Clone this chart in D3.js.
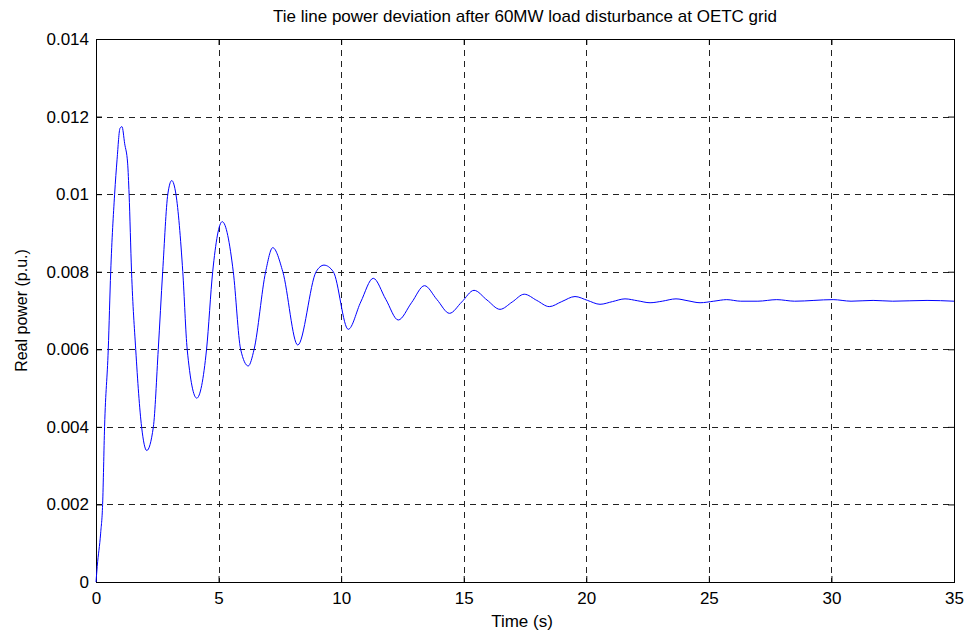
<!DOCTYPE html>
<html>
<head>
<meta charset="utf-8">
<script src="https://cdn.jsdelivr.net/npm/d3@7"></script>
<style>
  html, body { margin: 0; padding: 0; background: #fff; }
  svg { display: block; font-family: "Liberation Sans", Arial, Helvetica, sans-serif; }
</style>
</head>
<body>
<svg id="chart" width="971" height="636"></svg>
<script>
// ---- Data ----
const timeS = [0, 0.05, 0.19, 0.27, 0.35, 0.50, 0.60, 0.76, 0.86, 0.98, 1.06, 1.17, 1.29, 1.35, 1.45, 1.62, 1.86, 2.07,
  2.34, 2.54, 2.72, 2.93, 3.09, 3.26, 3.54, 3.72, 4.11, 4.51, 4.76, 5.15, 5.60, 5.90, 6.21, 6.45, 6.92, 7.21, 7.62,
  8.23, 8.98, 9.30, 9.68, 10.29, 10.80, 11.31, 11.82, 12.33, 12.87, 13.40, 13.91, 14.42, 14.92, 15.42, 15.95, 16.48,
  16.98, 17.47, 17.98, 18.49, 19.00, 19.54, 20.05, 20.56, 21.07, 21.58, 22.10, 22.60, 23.10, 23.66, 24.15, 24.64,
  25.20, 25.73, 26.30, 27.00, 27.77, 28.50, 30.07, 30.80, 31.70, 32.50, 33.90, 35.00];
const powerPU = [0, 0.0004, 0.00126, 0.002, 0.004, 0.006, 0.008, 0.010, 0.0109, 0.0117, 0.01174, 0.0113, 0.0108, 0.010,
  0.008, 0.006, 0.004, 0.00339, 0.004, 0.006, 0.008, 0.010, 0.01035, 0.010, 0.008, 0.006, 0.00474, 0.006, 0.008,
  0.00929, 0.008, 0.006, 0.00557, 0.006, 0.008, 0.00862, 0.008, 0.00611, 0.008, 0.00817, 0.008, 0.006515, 0.00722,
  0.00783, 0.00729, 0.006755, 0.0072, 0.00764, 0.00728, 0.006927, 0.00722, 0.00752, 0.00727, 0.00703, 0.00722,
  0.00742, 0.00726, 0.00710, 0.00723, 0.00736, 0.00726, 0.00716, 0.00723, 0.00730, 0.00725, 0.00720, 0.00724,
  0.00730, 0.00725, 0.00720, 0.00724, 0.00728, 0.00724, 0.00724, 0.00728, 0.00724, 0.00728, 0.00724, 0.00726,
  0.00724, 0.00726, 0.00724];
const xTicks = [0, 5, 10, 15, 20, 25, 30, 35];
const yTicks = [0, 0.002, 0.004, 0.006, 0.008, 0.010, 0.012, 0.014];
const yTickLabels = ["0", "0.002", "0.004", "0.006", "0.008", "0.01", "0.012", "0.014"];
const titleText = "Tie line power deviation after 60MW load disturbance at OETC grid";
const xLabel = "Time (s)";
const yLabel = "Real power (p.u.)";

// ---- Layout ----
const W = 971, H = 636;
const m = { left: 96, top: 39, right: 17, bottom: 54 };
const iw = W - m.left - m.right, ih = H - m.top - m.bottom;

const svg = d3.select("#chart");
const g = svg.append("g").attr("transform", `translate(${m.left},${m.top})`);

const x = d3.scaleLinear().domain([0, 35]).range([0, iw]);
const y = d3.scaleLinear().domain([0, 0.014]).range([ih, 0]);

// grid
const dash = "6,5";
const gridColor = "#222";
g.append("g").selectAll("line").data(xTicks.slice(1, -1)).join("line")
  .attr("x1", d => Math.round(x(d)) + 0.5).attr("x2", d => Math.round(x(d)) + 0.5)
  .attr("y1", 0).attr("y2", ih)
  .attr("stroke", gridColor).attr("stroke-width", 1).attr("stroke-dasharray", dash);
g.append("g").selectAll("line").data(yTicks.slice(1)).join("line")
  .attr("y1", d => Math.round(y(d)) + 0.5).attr("y2", d => Math.round(y(d)) + 0.5)
  .attr("x1", 0).attr("x2", iw)
  .attr("stroke", gridColor).attr("stroke-width", 1).attr("stroke-dasharray", dash);

// axes (ticks inside)
const fs = 17;
const xAxis = d3.axisBottom(x).tickValues(xTicks).tickSize(-6).tickPadding(10).tickFormat(d3.format("d"));
const yAxis = d3.axisLeft(y).tickValues(yTicks).tickSize(-6).tickPadding(7).tickFormat((d, i) => yTickLabels[i]);
const xa = g.append("g").attr("transform", `translate(0,${ih})`).call(xAxis);
const ya = g.append("g").call(yAxis);
[xa, ya].forEach(a => {
  a.select(".domain").remove();
  a.selectAll("line").attr("stroke", "#000");
  a.selectAll("text").attr("font-size", fs).attr("fill", "#000")
    .attr("font-family", '"Liberation Sans", Arial, Helvetica, sans-serif');
});
// top and right ticks
const xTop = d3.axisTop(x).tickValues(xTicks).tickSize(-6).tickFormat("");
const yRight = d3.axisRight(y).tickValues(yTicks).tickSize(-6).tickFormat("");
const xt = g.append("g").call(xTop);
const yr = g.append("g").attr("transform", `translate(${iw},0)`).call(yRight);
[xt, yr].forEach(a => { a.select(".domain").remove(); a.selectAll("line").attr("stroke", "#000"); });

// box
g.append("rect").attr("x", 0.5).attr("y", 0.5).attr("width", iw).attr("height", ih)
  .attr("fill", "none").attr("stroke", "#000").attr("stroke-width", 1);

// line
const data = timeS.map((t, i) => ({ t, v: powerPU[i] }));
g.append("path").datum(data)
  .attr("fill", "none").attr("stroke", "#0000ff").attr("stroke-width", 1)
  .attr("d", d3.line().x(d => x(d.t)).y(d => y(d.v)).curve(d3.curveMonotoneX));

// labels
svg.append("text").attr("x", m.left + iw / 2).attr("y", 22).attr("text-anchor", "middle")
  .attr("font-size", 17).text(titleText);
svg.append("text").attr("x", 522).attr("y", 627).attr("text-anchor", "middle")
  .attr("font-size", fs).text(xLabel);
svg.append("text").attr("transform", `translate(27,${m.top + ih / 2}) rotate(-90)`).attr("text-anchor", "middle")
  .attr("font-size", 16).text(yLabel);
</script>
</body>
</html>
